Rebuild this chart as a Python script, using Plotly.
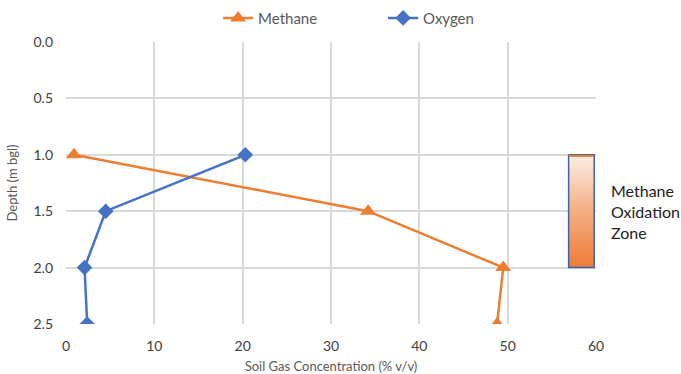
import plotly.graph_objects as go

# Soil gas profile data
depth = [1.0, 1.5, 2.0, 2.5]
methane = [0.9, 34.2, 49.5, 48.8]
oxygen = [20.3, 4.5, 2.1, 2.4]

# Methane oxidation zone (depth range and concentration-axis extent of the box)
zone_depth = [1.0, 2.0]
zone_x = [56.9, 59.8]
zone_label = "Methane<br>Oxidation<br>Zone"

x_ticks = [0, 10, 20, 30, 40, 50, 60]
y_ticks = [0.0, 0.5, 1.0, 1.5, 2.0, 2.5]

ORANGE = "#ED7D31"
BLUE = "#4472C4"
FONT = "Lato, 'Open Sans', sans-serif"

fig = go.Figure()

fig.add_trace(go.Scatter(
    x=methane, y=depth, name="Methane", mode="lines+markers",
    line=dict(color=ORANGE, width=2.5),
    marker=dict(symbol="triangle-up", size=14, color=ORANGE),
))
fig.add_trace(go.Scatter(
    x=oxygen, y=depth, name="Oxygen", mode="lines+markers",
    line=dict(color=BLUE, width=2.5),
    marker=dict(symbol="diamond", size=12, color=BLUE),
))

# Gradient-filled zone box
x0, x1 = zone_x
d0, d1 = zone_depth
fig.add_trace(go.Scatter(
    x=[x0, x1, x1, x0, x0], y=[d0, d0, d1, d1, d0],
    mode="lines", fill="toself", showlegend=False, hoverinfo="skip",
    line=dict(color="#3F64A8", width=1.5),
    fillgradient=dict(
        type="vertical", start=d0, stop=d1,
        colorscale=[[0, "#FCEFE6"], [0.5, "#F4AE82"], [1, "#EE7C38"]],
    ),
))
fig.add_trace(go.Scatter(
    x=[x0 + 0.1, x1 - 0.1], y=[d0 + 0.01, d0 + 0.01], mode="lines",
    line=dict(color=ORANGE, width=2), showlegend=False, hoverinfo="skip",
))

fig.add_annotation(
    x=1.025, xref="paper", xanchor="left",
    y=1.5, yref="y", yanchor="middle",
    text=zone_label, showarrow=False, align="left",
    font=dict(family=FONT, size=16, color="#222222"),
)

fig.update_layout(
    width=681, height=374,
    margin=dict(l=66, r=85, t=0, b=50),
    paper_bgcolor="white", plot_bgcolor="white",
    font=dict(family=FONT, color="#404040"),
    legend=dict(
        orientation="h", xref="paper", x=0.287, xanchor="left",
        yref="paper", y=0.944, yanchor="middle",
        font=dict(size=15, color="#595959"),
        itemwidth=30, entrywidth=120, entrywidthmode="pixels",
    ),
    xaxis=dict(
        range=[0, 60], tickvals=x_ticks, showgrid=True, automargin=False,
        gridcolor="#D9D9D9", gridwidth=1.5, zeroline=False,
        showline=False, ticks="", ticklabelstandoff=12,
        tickfont=dict(size=14, color="#404040"),
        title=dict(text="Soil Gas Concentration (% v/v)",
                   font=dict(size=13, color="#595959"), standoff=8),
    ),
    yaxis=dict(
        range=[2.5, 0.0], tickvals=y_ticks, tickformat=".1f",
        domain=[0, 0.8704], automargin=False,
        showgrid=True, gridcolor="#D9D9D9", gridwidth=1.5, zeroline=False,
        showline=False, ticks="", ticklabelstandoff=12,
        tickfont=dict(size=14, color="#404040"),
        title=dict(text="Depth (m bgl)",
                   font=dict(size=13, color="#595959"), standoff=12),
    ),
)

fig.write_html("out.html")
